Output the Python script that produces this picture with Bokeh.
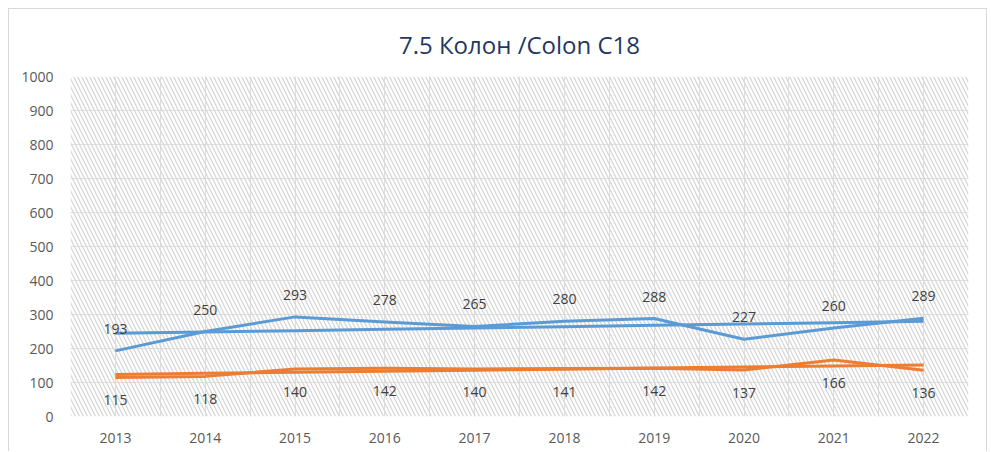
import numpy as np
from bokeh.plotting import figure
from bokeh.models import ColumnDataSource, LabelSet, BoxAnnotation, FixedTicker
from bokeh.core.properties import value
from bokeh.embed import file_html
from bokeh.resources import INLINE

title_text = "7.5 Колон /Colon C18"
years = [2013, 2014, 2015, 2016, 2017, 2018, 2019, 2020, 2021, 2022]
series_blue = [193, 250, 293, 278, 265, 280, 288, 227, 260, 289]
series_orange = [115, 118, 140, 142, 140, 141, 142, 137, 166, 136]
y_ticks = list(range(0, 1001, 100))

BLUE = "#5B9BD5"
ORANGE = "#ED7D31"
FONT = "Open Sans"

x = np.arange(len(years))

p = figure(width=979, height=443, output_backend="svg", toolbar_location=None,
           x_range=(-0.5, len(years) - 0.5), y_range=(0, 1000),
           min_border_left=61, min_border_right=20, min_border_top=67,
           min_border_bottom=36, title=title_text)
p.styles = {"margin-left": "8px", "margin-top": "8px",
            "border-left": "1px solid #d9d9d9", "border-right": "1px solid #d9d9d9",
            "border-top": "1px solid #d9d9d9"}
p.outline_line_color = None
p.background_fill_color = "white"
p.border_fill_color = "white"

p.title.align = "center"
p.title.vertical_align = "top"
p.title.text_font = FONT
p.title.text_font_size = "24px"
p.title.text_font_style = "normal"
p.title.text_color = "#1F3864"
p.title.standoff = 28

# hatched plot area
p.add_layout(BoxAnnotation(fill_alpha=0, line_color=None, hatch_pattern="\\",
                           hatch_color="#d6d6d6", hatch_scale=8, hatch_weight=1.3,
                           level="underlay"))

# axes
p.xaxis.ticker = FixedTicker(ticks=list(x))
p.xaxis.major_label_overrides = {int(i): str(yr) for i, yr in zip(x, years)}
p.yaxis.ticker = FixedTicker(ticks=y_ticks)
for ax in (p.xaxis, p.yaxis):
    ax.axis_line_color = None
    ax.major_tick_line_color = None
    ax.minor_tick_line_color = None
    ax.major_label_text_font = FONT
    ax.major_label_text_font_size = "14px"
    ax.major_label_text_color = "#595959"
p.xaxis.major_label_standoff = 10
p.yaxis.major_label_standoff = 11

p.xgrid.ticker = FixedTicker(ticks=list(np.arange(-0.5, len(years), 0.5)))
p.ygrid.ticker = FixedTicker(ticks=y_ticks)
p.xgrid.grid_line_color = "#dedede"
p.ygrid.grid_line_color = "#dedede"

src = ColumnDataSource(dict(x=x, blue=series_blue, orange=series_orange,
                            blue_t=[str(v) for v in series_blue],
                            orange_t=[str(v) for v in series_orange]))

# linear trend lines derived from the data
bt = np.polyval(np.polyfit(x, series_blue, 1), x)
ot = np.polyval(np.polyfit(x, series_orange, 1), x)
p.line(x, bt, line_color=BLUE, line_width=3)
p.line(x, ot, line_color=ORANGE, line_width=3)

p.line("x", "blue", source=src, line_color=BLUE, line_width=3, line_join="round")
p.line("x", "orange", source=src, line_color=ORANGE, line_width=3, line_join="round")

p.add_layout(LabelSet(x="x", y="blue", text="blue_t", source=src, y_offset=22,
                      text_align="center", text_baseline="middle",
                      text_font=value(FONT), text_font_size="14px", text_color="#404040"))
p.add_layout(LabelSet(x="x", y="orange", text="orange_t", source=src, y_offset=-23,
                      text_align="center", text_baseline="middle",
                      text_font=value(FONT), text_font_size="14px", text_color="#404040"))

open("out.html", "w").write(file_html(p, INLINE))
